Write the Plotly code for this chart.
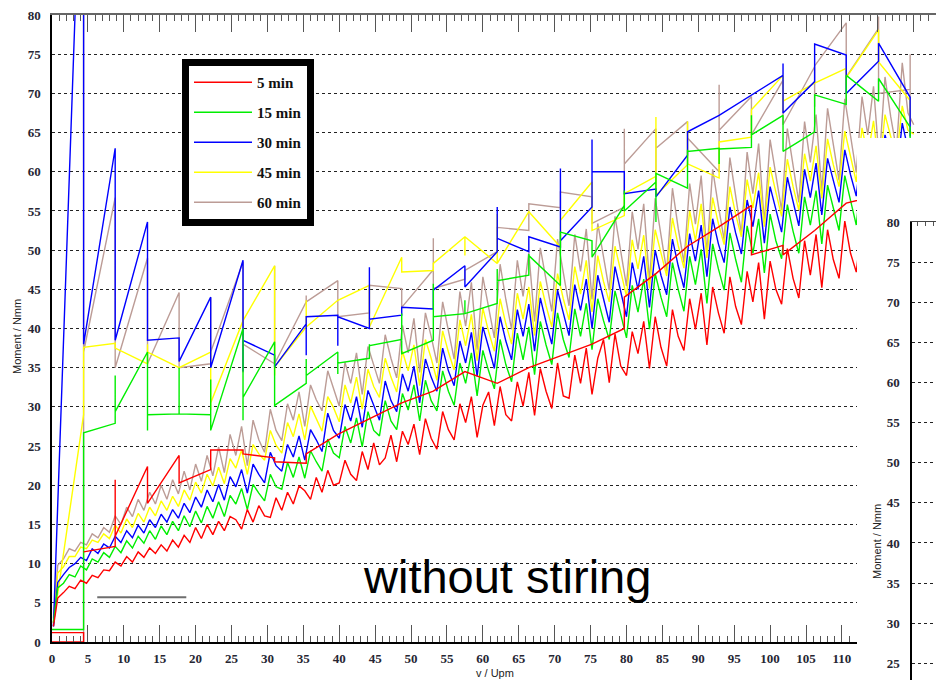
import plotly.graph_objects as go

# ---------------- data ----------------
SPEED = [0.2, 0.8, 1.6, 2.4, 3.2, 4.0, 4.8, 5.6, 6.4, 7.2,
         8.0, 8.8, 9.6, 10.4, 11.2, 12.0, 12.8, 13.6, 14.4, 15.2,
         16.0, 16.8, 17.6, 18.4, 19.2, 20.0, 20.8, 21.6, 22.4, 23.2,
         24.0, 24.8, 25.6, 26.4, 27.2, 28.0, 28.8, 29.6, 30.4, 31.2,
         32.0, 32.8, 33.6, 34.4, 35.2, 36.0, 36.8, 37.6, 38.4, 39.2,
         40.0, 40.8, 41.6, 42.4, 43.2, 44.0, 44.8, 45.6, 46.4, 47.2,
         48.0, 48.8, 49.6, 50.4, 51.2, 52.0, 52.8, 53.6, 54.4, 55.2,
         56.0, 56.8, 57.6, 58.4, 59.2, 60.0, 60.8, 61.6, 62.4, 63.2,
         64.0, 64.8, 65.6, 66.4, 67.2, 68.0, 68.8, 69.6, 70.4, 71.2,
         72.0, 72.8, 73.6, 74.4, 75.2, 76.0, 76.8, 77.6, 78.4, 79.2,
         80.0, 80.8, 81.6, 82.4, 83.2, 84.0, 84.8, 85.6, 86.4, 87.2,
         88.0, 88.8, 89.6, 90.4, 91.2, 92.0, 92.8, 93.6, 94.4, 95.2,
         96.0, 96.8, 97.6, 98.4, 99.2, 100.0, 100.8, 101.6, 102.4, 103.2,
         104.0, 104.8, 105.6, 106.4, 107.2, 108.0, 108.8, 109.6, 110.4, 111.2,
         112.0, 112.8, 113.6, 114.4, 115.2, 116.0, 116.8, 117.6, 118.4, 119.2,
         120.0]

RAMP_5 = [2.0, 5.6, 6.3, 7.1, 6.8, 7.9, 7.5, 8.5, 8.2, 9.2,
          9.1, 10.2, 9.7, 10.9, 10.2, 11.5, 10.8, 12.0, 11.3, 12.4,
          11.6, 13.0, 12.1, 13.6, 12.7, 14.6, 13.2, 15.0, 13.7, 15.4,
          14.2, 16.0, 15.6, 14.4, 16.9, 15.3, 17.4, 16.1, 15.9, 18.4,
          16.8, 19.1, 17.6, 19.9, 19.3, 18.2, 21.0, 19.1, 21.9, 20.0,
          20.3, 23.2, 21.4, 20.6, 24.3, 22.0, 25.4, 22.6, 23.5, 26.4,
          23.0, 26.9, 25.2, 27.8, 23.9, 28.5, 26.0, 24.6, 29.4, 27.1,
          25.8, 30.4, 28.0, 31.3, 26.1, 30.2, 31.9, 27.6, 32.6, 29.0,
          28.2, 33.2, 30.1, 34.4, 28.9, 34.9, 32.0, 29.8, 35.6, 31.4,
          31.1, 36.6, 33.0, 37.5, 31.6, 36.2, 38.6, 33.1, 39.3, 35.2,
          34.0, 39.6, 36.8, 40.9, 34.9, 41.5, 37.6, 35.2, 42.4, 39.0,
          37.2, 43.8, 39.9, 44.5, 37.9, 45.3, 42.0, 39.4, 46.6, 42.8,
          40.5, 47.3, 43.4, 48.4, 41.2, 48.6, 45.0, 43.1, 50.2, 46.4,
          43.9, 51.2, 46.8, 52.0, 45.2, 52.6, 48.8, 46.4, 53.7, 49.6,
          47.2, 53.5, 50.6, 54.4, 49.0, 55.2, 52.0, 50.4, 56.0, 53.2,
          54.0]

RAMP_15 = [2.5, 6.9, 7.5, 8.6, 8.3, 9.7, 9.2, 10.6, 10.2, 11.4,
           10.8, 12.2, 11.4, 12.9, 12.0, 13.5, 12.6, 14.2, 13.1, 14.8,
           13.7, 15.4, 14.2, 16.1, 14.7, 16.7, 15.2, 17.3, 15.8, 17.9,
           16.0, 18.7, 17.6, 19.6, 16.9, 20.1, 19.0, 18.0, 21.4, 19.8,
           19.5, 22.9, 21.0, 23.6, 20.9, 24.4, 23.0, 21.8, 25.9, 24.1,
           23.5, 27.5, 25.4, 28.6, 24.9, 29.4, 27.0, 26.3, 30.8, 28.2,
           27.1, 31.7, 29.6, 32.8, 28.2, 33.4, 30.8, 29.5, 34.6, 32.0,
           30.2, 35.6, 33.0, 36.9, 31.4, 37.2, 34.6, 32.3, 38.6, 35.4,
           33.2, 39.4, 36.0, 40.2, 34.1, 40.9, 37.9, 35.4, 42.0, 38.6,
           36.3, 42.5, 39.0, 43.2, 37.3, 43.8, 41.0, 38.6, 44.8, 41.6,
           38.8, 45.5, 42.1, 46.3, 39.9, 47.0, 44.0, 41.5, 48.4, 45.0,
           42.2, 49.2, 45.6, 50.1, 43.2, 50.8, 47.6, 44.9, 52.2, 48.8,
           45.9, 53.1, 49.6, 54.0, 47.1, 54.6, 51.2, 48.9, 55.8, 52.4,
           49.6, 56.8, 53.2, 57.6, 50.8, 58.3, 55.4, 52.5, 59.5, 56.2,
           53.2, 60.1, 56.6, 60.9, 54.4, 61.7, 58.7, 56.2, 62.8, 59.6,
           58.5]

RAMP_30 = [2.0, 7.6, 8.6, 9.5, 10.0, 10.8, 10.4, 11.9, 11.3, 12.5,
           12.0, 13.5, 12.7, 14.2, 13.3, 14.9, 13.9, 15.6, 14.6, 16.3,
           15.3, 16.9, 15.8, 17.7, 16.5, 18.5, 17.2, 19.4, 17.9, 20.1,
           18.1, 21.1, 19.8, 22.0, 19.0, 22.7, 21.4, 20.3, 24.2, 22.5,
           21.8, 25.2, 23.6, 26.3, 23.2, 27.1, 25.8, 24.3, 29.2, 27.0,
           26.0, 30.3, 28.2, 31.3, 27.4, 32.1, 30.2, 28.3, 33.3, 30.8,
           29.4, 34.2, 32.0, 35.2, 30.5, 36.1, 33.8, 32.0, 37.5, 34.6,
           32.7, 38.4, 35.6, 39.5, 33.9, 40.2, 37.6, 34.9, 41.5, 38.4,
           36.0, 42.4, 39.0, 43.1, 37.1, 43.9, 40.8, 38.0, 44.9, 41.8,
           39.1, 45.6, 42.3, 46.3, 40.0, 46.8, 43.9, 40.8, 47.9, 44.5,
           41.5, 48.4, 45.0, 49.2, 42.7, 50.0, 46.8, 44.3, 51.4, 48.0,
           45.2, 52.1, 48.6, 53.2, 46.6, 54.0, 50.8, 48.4, 55.5, 52.2,
           49.5, 56.4, 53.0, 57.6, 50.9, 58.1, 55.2, 52.3, 59.3, 56.0,
           53.1, 60.3, 56.7, 61.1, 54.5, 61.7, 59.0, 56.1, 62.8, 59.6,
           56.9, 63.3, 60.1, 64.1, 58.3, 64.7, 62.2, 59.3, 66.2, 62.9,
           62.5]

RAMP_45 = [2.4, 8.8, 9.6, 10.9, 10.9, 12.1, 11.9, 13.0, 12.7, 13.8,
           13.2, 14.9, 13.9, 15.7, 14.6, 16.4, 15.3, 17.2, 16.1, 18.0,
           16.8, 18.6, 17.3, 19.4, 18.1, 20.4, 19.0, 21.4, 19.9, 22.3,
           20.2, 23.4, 22.2, 24.5, 21.4, 25.2, 24.0, 23.2, 27.0, 25.1,
           24.1, 28.0, 26.2, 29.1, 25.8, 30.1, 28.5, 26.9, 31.3, 29.9,
           28.1, 32.8, 30.5, 33.8, 29.7, 34.8, 32.6, 31.2, 36.2, 33.8,
           31.9, 37.1, 34.6, 37.9, 32.7, 38.6, 36.2, 33.4, 39.7, 37.0,
           34.7, 41.1, 37.8, 41.8, 35.9, 42.6, 39.6, 37.1, 43.8, 40.6,
           38.0, 44.5, 41.2, 45.3, 39.1, 46.0, 42.9, 40.2, 47.0, 43.8,
           41.1, 47.9, 44.4, 48.7, 42.1, 49.3, 46.0, 43.4, 50.5, 47.2,
           44.1, 51.3, 47.6, 51.9, 45.1, 52.6, 49.5, 46.7, 54.1, 50.6,
           47.7, 55.0, 51.2, 55.9, 49.0, 56.7, 53.4, 50.7, 58.1, 54.6,
           51.7, 59.0, 55.4, 59.9, 53.0, 60.6, 57.4, 54.3, 61.6, 58.1,
           55.1, 62.3, 58.8, 63.3, 56.6, 64.2, 60.9, 58.1, 65.2, 61.9,
           58.7, 65.6, 62.0, 66.5, 60.2, 67.3, 64.5, 61.7, 68.4, 65.3,
           64.8]

RAMP_60 = [3.0, 9.8, 10.6, 11.9, 11.6, 12.7, 12.4, 13.8, 13.3, 14.6,
           14.0, 16.1, 15.0, 17.2, 16.0, 18.2, 16.8, 19.1, 17.6, 20.0,
           18.2, 20.7, 18.9, 21.8, 19.4, 22.7, 20.5, 23.8, 21.2, 24.9,
           21.6, 26.5, 23.8, 27.5, 22.5, 28.3, 25.8, 24.2, 29.7, 27.0,
           25.7, 30.4, 28.3, 31.9, 27.5, 32.8, 30.9, 29.5, 34.6, 32.2,
           30.1, 35.7, 33.0, 36.9, 31.6, 37.7, 35.4, 33.0, 39.2, 36.2,
           33.7, 40.4, 36.9, 41.3, 34.4, 42.0, 39.0, 35.6, 43.4, 39.8,
           36.1, 44.7, 40.3, 45.9, 37.3, 46.6, 42.5, 38.8, 48.2, 43.7,
           39.9, 48.7, 44.1, 49.7, 40.9, 50.3, 46.2, 42.2, 51.4, 46.9,
           42.9, 52.0, 47.3, 52.7, 43.7, 53.4, 49.2, 44.9, 54.3, 49.8,
           45.4, 54.9, 50.1, 55.9, 46.0, 56.6, 51.9, 47.3, 57.9, 52.8,
           48.4, 58.5, 53.3, 59.5, 49.6, 60.3, 55.6, 51.3, 61.8, 56.8,
           52.1, 62.5, 57.2, 63.6, 53.5, 64.1, 59.6, 55.1, 65.5, 60.7,
           56.1, 66.4, 61.2, 67.3, 57.5, 68.1, 63.5, 58.9, 69.3, 64.4,
           59.9, 69.6, 64.7, 70.9, 61.3, 72.1, 67.0, 62.8, 73.9, 67.5,
           66.0]

# speed steps where the step readings were taken
STEP_V = [4.4, 8.8, 13.3, 17.7, 22.1, 26.6, 31.0, 35.4, 39.8, 44.2, 48.7, 53.1, 57.5, 62.0,
          66.4, 70.8, 75.2, 79.7, 84.1, 88.5, 92.9, 97.4, 101.8, 106.2, 110.6, 115.1, 119.5]

# step readings: arrive / extreme / depart value at each step
STEP_5_A = [11.5, 12.2, 22.4, 23.8, 22.0, 24.5, 23.5, 22.8, 26.5, 28.5, 30.5, 32.0, 34.5, 33.0,
            35.0, 36.5, 38.0, 40.0, 47.0, 50.5, 53.0, 55.7, 50.6, 52.5, 56.0, 57.0, 58.0]
STEP_5_P = [11.5, 20.7, 17.7, 20.3, 22.0, 24.5, 23.5, 22.8, 26.5, 28.5, 30.5, 32.0, 34.5, 33.0,
            35.0, 36.5, 38.0, 40.0, 47.0, 50.5, 53.0, 49.4, 50.6, 52.5, 56.0, 57.0, 58.0]
STEP_5_D = [11.5, 13.5, 17.7, 20.3, 24.5, 24.0, 23.0, 24.0, 26.5, 28.5, 30.5, 32.0, 34.5, 33.0,
            35.0, 36.5, 38.0, 44.0, 47.0, 50.5, 53.0, 49.4, 49.4, 52.5, 56.0, 57.0, 58.0]
START_5_V = [0.0, 4.4, 4.4, 0.0]
START_5_M = [0.0, 0.0, 1.2, 1.2]

STEP_15_A = [1.6, 27.9, 37.0, 29.1, 29.0, 40.0, 38.3, 33.0, 37.0, 36.2, 38.6, 38.5, 41.9, 43.2,
             46.8, 45.5, 51.2, 55.7, 58.7, 57.9, 63.0, 63.1, 67.2, 65.1, 68.6, 69.0, 65.7]
STEP_15_P = [26.7, 34.0, 27.0, 35.0, 33.5, 28.3, 30.0, 36.1, 34.2, 38.0, 41.9, 45.7, 43.6, 47.6,
             49.5, 52.3, 49.1, 57.6, 53.6, 62.8, 61.0, 67.2, 62.6, 69.8, 72.3, 71.9, 65.7]
STEP_15_D = [26.7, 29.4, 29.0, 29.1, 27.0, 31.2, 30.2, 34.0, 35.6, 37.8, 36.8, 41.5, 41.9, 46.1,
             49.3, 52.3, 49.1, 55.0, 59.8, 62.6, 62.9, 64.7, 62.6, 69.8, 72.3, 71.9, 64.0]
START_15_V = [0.0]
START_15_M = [1.6]

STEP_30_A = [111.0, 63.0, 53.6, 38.8, 44.0, 48.7, 36.6, 40.6, 41.7, 40.0, 41.7, 42.5, 48.0, 49.8,
             49.8, 50.4, 55.5, 60.0, 57.8, 62.1, 67.2, 69.8, 72.3, 71.5, 74.9, 74.1, 69.5]
STEP_30_P = [111.0, 63.0, 53.6, 38.8, 44.0, 34.5, 36.6, 36.6, 37.8, 47.8, 42.7, 44.9, 48.0, 55.5,
             49.8, 60.4, 64.1, 60.0, 56.8, 65.1, 67.2, 69.8, 73.8, 76.3, 74.9, 76.4, 64.5]
STEP_30_D = [38.0, 38.5, 38.5, 35.8, 35.0, 38.5, 35.1, 41.5, 41.5, 41.2, 42.7, 44.9, 45.3, 51.5,
             51.7, 51.2, 60.0, 57.2, 56.8, 65.1, 67.2, 69.8, 67.5, 76.3, 70.0, 76.4, 64.5]
START_30_V = [0.2]
START_30_M = [2.0]

STEP_45_A = [29.0, 38.1, 35.5, 35.0, 37.0, 41.0, 48.0, 40.2, 43.6, 45.5, 49.1, 47.4, 51.7, 48.3,
             54.9, 50.4, 58.7, 54.4, 59.4, 60.9, 59.2, 64.4, 72.3, 71.3, 73.2, 78.1, 69.1]
STEP_45_P = [37.6, 38.1, 38.0, 35.0, 29.6, 41.0, 34.0, 43.6, 43.6, 40.2, 47.2, 48.3, 49.3, 54.6,
             54.9, 53.8, 52.5, 57.2, 67.0, 66.4, 63.8, 67.9, 67.7, 71.3, 71.1, 74.0, 66.0]
STEP_45_D = [37.6, 37.5, 37.0, 35.0, 30.5, 41.0, 35.1, 40.2, 43.6, 40.2, 47.2, 48.3, 51.7, 48.3,
             54.9, 53.8, 52.5, 57.2, 57.0, 61.0, 63.8, 67.9, 69.0, 71.3, 72.0, 74.0, 66.0]
START_45_V = [0.2]
START_45_M = [2.4]

STEP_60_A = [0.0, 56.7, 49.0, 44.6, 35.5, 48.5, 35.5, 43.4, 46.1, 42.0, 45.1, 47.5, 46.3, 49.8,
             52.5, 55.4, 56.8, 55.5, 65.5, 66.4, 60.0, 69.6, 71.7, 73.4, 79.0, 78.3, 70.5]
STEP_60_P = [100.0, 56.7, 49.0, 44.6, 44.0, 34.4, 48.0, 44.2, 41.5, 45.5, 42.7, 51.5, 47.4, 52.9,
             55.9, 57.4, 53.4, 65.5, 57.0, 60.9, 71.1, 64.7, 66.0, 68.3, 69.0, 79.8, 75.0]
STEP_60_D = [37.0, 35.0, 35.5, 35.0, 37.0, 38.0, 35.5, 43.4, 41.5, 45.5, 42.7, 45.1, 47.4, 52.9,
             55.9, 57.4, 53.4, 61.0, 63.0, 64.3, 65.3, 64.7, 66.0, 73.5, 72.1, 70.0, 66.0]
START_60_V = []
START_60_M = []

GRAY_V = [6.3, 18.7]
GRAY_M = [5.7, 5.7]

NAMES = ["5 min", "15 min", "30 min", "45 min", "60 min"]
COLORS = ["#ff0000", "#00ee00", "#0000ff", "#ffff00", "#bc9c96"]
Y_TICKS = list(range(0, 81, 5))
Y2_TICKS = list(range(25, 81, 5))

SERIES = [
    (RAMP_5, START_5_V, START_5_M, STEP_5_A, STEP_5_P, STEP_5_D),
    (RAMP_15, START_15_V, START_15_M, STEP_15_A, STEP_15_P, STEP_15_D),
    (RAMP_30, START_30_V, START_30_M, STEP_30_A, STEP_30_P, STEP_30_D),
    (RAMP_45, START_45_V, START_45_M, STEP_45_A, STEP_45_P, STEP_45_D),
    (RAMP_60, START_60_V, START_60_M, STEP_60_A, STEP_60_P, STEP_60_D),
]


def build(ramp, sv, sm, a, p, d):
    xs = list(SPEED) + [None] + list(sv)
    ys = list(ramp) + [None] + list(sm)
    if sv and sv[0] == 0.0 and len(sv) > 1:
        xs.append(None)
        ys.append(None)
    for v, ai, pi, di in zip(STEP_V, a, p, d):
        xs += [v, v, v]
        ys += [ai, pi, di]
    return xs, ys


fig = go.Figure()

# draw order: 60, 45, 30, 15, 5 (red on top)
for idx in [4, 3, 2, 1, 0]:
    xs, ys = build(*SERIES[idx])
    for ax, ay, leg in [("x", "y", True), ("x4", "y4", False)]:
        fig.add_trace(go.Scatter(
            x=xs, y=ys, mode="lines", name=NAMES[idx],
            line=dict(color=COLORS[idx], width=1.4),
            xaxis=ax, yaxis=ay, showlegend=leg,
            legendgroup=NAMES[idx], legendrank=idx + 1,
            hoverinfo="skip"))

fig.add_trace(go.Scatter(x=GRAY_V, y=GRAY_M, mode="lines",
                         line=dict(color="#6e6e6e", width=2),
                         showlegend=False, hoverinfo="skip"))
# helpers so overlay / second chart axes are drawn
fig.add_trace(go.Scatter(x=[None], y=[None], xaxis="x3", yaxis="y", showlegend=False))
fig.add_trace(go.Scatter(x=[None], y=[None], xaxis="x2", yaxis="y2", showlegend=False))

W, H = 936, 680
tickfont = dict(family="Liberation Serif", size=13, color="#262633", weight="bold")
grid = dict(showgrid=True, gridcolor="#222222", griddash="dot", gridwidth=1)
minor_x = dict(ticks="inside", ticklen=6, tickcolor="#555555", tickwidth=1,
               tickmode="linear", tick0=0, dtick=1, showgrid=False)

fig.update_layout(
    width=W, height=H,
    margin=dict(l=0, r=0, t=0, b=0, autoexpand=False),
    paper_bgcolor="white", plot_bgcolor="white",
    showlegend=True,
    legend=dict(x=182 / W, y=1 - 59 / H, xanchor="left", yanchor="top",
                bgcolor="white", bordercolor="black", borderwidth=7,
                font=dict(family="Liberation Serif", size=15, color="#111111", weight="bold"),
                itemwidth=58, tracegroupgap=7.5, traceorder="grouped"),
    xaxis=dict(domain=[52 / W, 857 / W], range=[0, 112.1], anchor="y", automargin=False,
               showline=True, linecolor="black", linewidth=1.5,
               ticks="inside", ticklen=17, tickwidth=1, tickcolor="#555555",
               tickmode="linear", tick0=0, dtick=5, minor=minor_x,
               showgrid=False, zeroline=False, tickfont=tickfont,
               ticklabelstandoff=4),
    xaxis3=dict(overlaying="x", side="top", anchor="y", range=[0, 112.1], automargin=False,
                showline=True, linecolor="#666666", linewidth=2,
                ticks="inside", ticklen=17, tickwidth=1, tickcolor="#555555",
                tickmode="linear", tick0=0, dtick=5, minor=minor_x,
                showticklabels=False, showgrid=False, zeroline=False),
    yaxis=dict(domain=[(H - 642) / H, (H - 15) / H], range=[0, 80], anchor="x",
               automargin=False,
               showline=True, linecolor="black", linewidth=1.5,
               tickmode="array", tickvals=Y_TICKS, ticks="",
               zeroline=False, tickfont=tickfont, ticklabelstandoff=7, **grid),
    xaxis4=dict(domain=[857 / W, 1], range=[112.1, 123.1], anchor="y4", side="top",
                automargin=False,
                showline=True, linecolor="#666666", linewidth=2,
                ticks="inside", ticklen=17, tickwidth=1, tickcolor="#555555",
                tickmode="linear", tick0=0, dtick=5, minor=minor_x,
                showticklabels=False, showgrid=False, zeroline=False),
    yaxis4=dict(domain=[(H - 138) / H, (H - 15) / H], range=[64.31, 80], anchor="x4",
                automargin=False,
                showline=False, showticklabels=False, ticks="",
                tickmode="array", tickvals=Y_TICKS, zeroline=False, **grid),
    xaxis2=dict(domain=[912 / W, 1], range=[0, 3], anchor="y2", side="top",
                automargin=False,
                showline=True, linecolor="#444444", linewidth=1,
                ticks="inside", ticklen=4, tickcolor="#555555",
                tickmode="linear", tick0=0.7, dtick=1,
                showticklabels=False, showgrid=False, zeroline=False),
    yaxis2=dict(domain=[0, (H - 222) / H], range=[22.92, 80], anchor="x2",
                automargin=False,
                showline=True, linecolor="black", linewidth=1.5,
                tickmode="array", tickvals=Y2_TICKS, ticks="",
                zeroline=False, tickfont=tickfont, ticklabelstandoff=8, **grid),
)

lab = dict(family="Liberation Sans", size=11, color="#222222")
common = dict(xref="paper", yref="paper", xanchor="center", yanchor="middle", showarrow=False)
fig.add_annotation(text="Moment / Nmm", x=17 / W, y=1 - 337 / H, textangle=-90, font=lab, **common)
fig.add_annotation(text="v / Upm", x=495 / W, y=1 - 673 / H, font=lab, **common)
fig.add_annotation(text="Moment / Nmm", x=877 / W, y=1 - 542 / H, textangle=-90, font=lab, **common)
fig.add_annotation(text="without stiring", x=507 / W, y=1 - 576 / H,
                   font=dict(family="Liberation Sans", size=47, color="black"), **common)

fig.write_html("out.html")
